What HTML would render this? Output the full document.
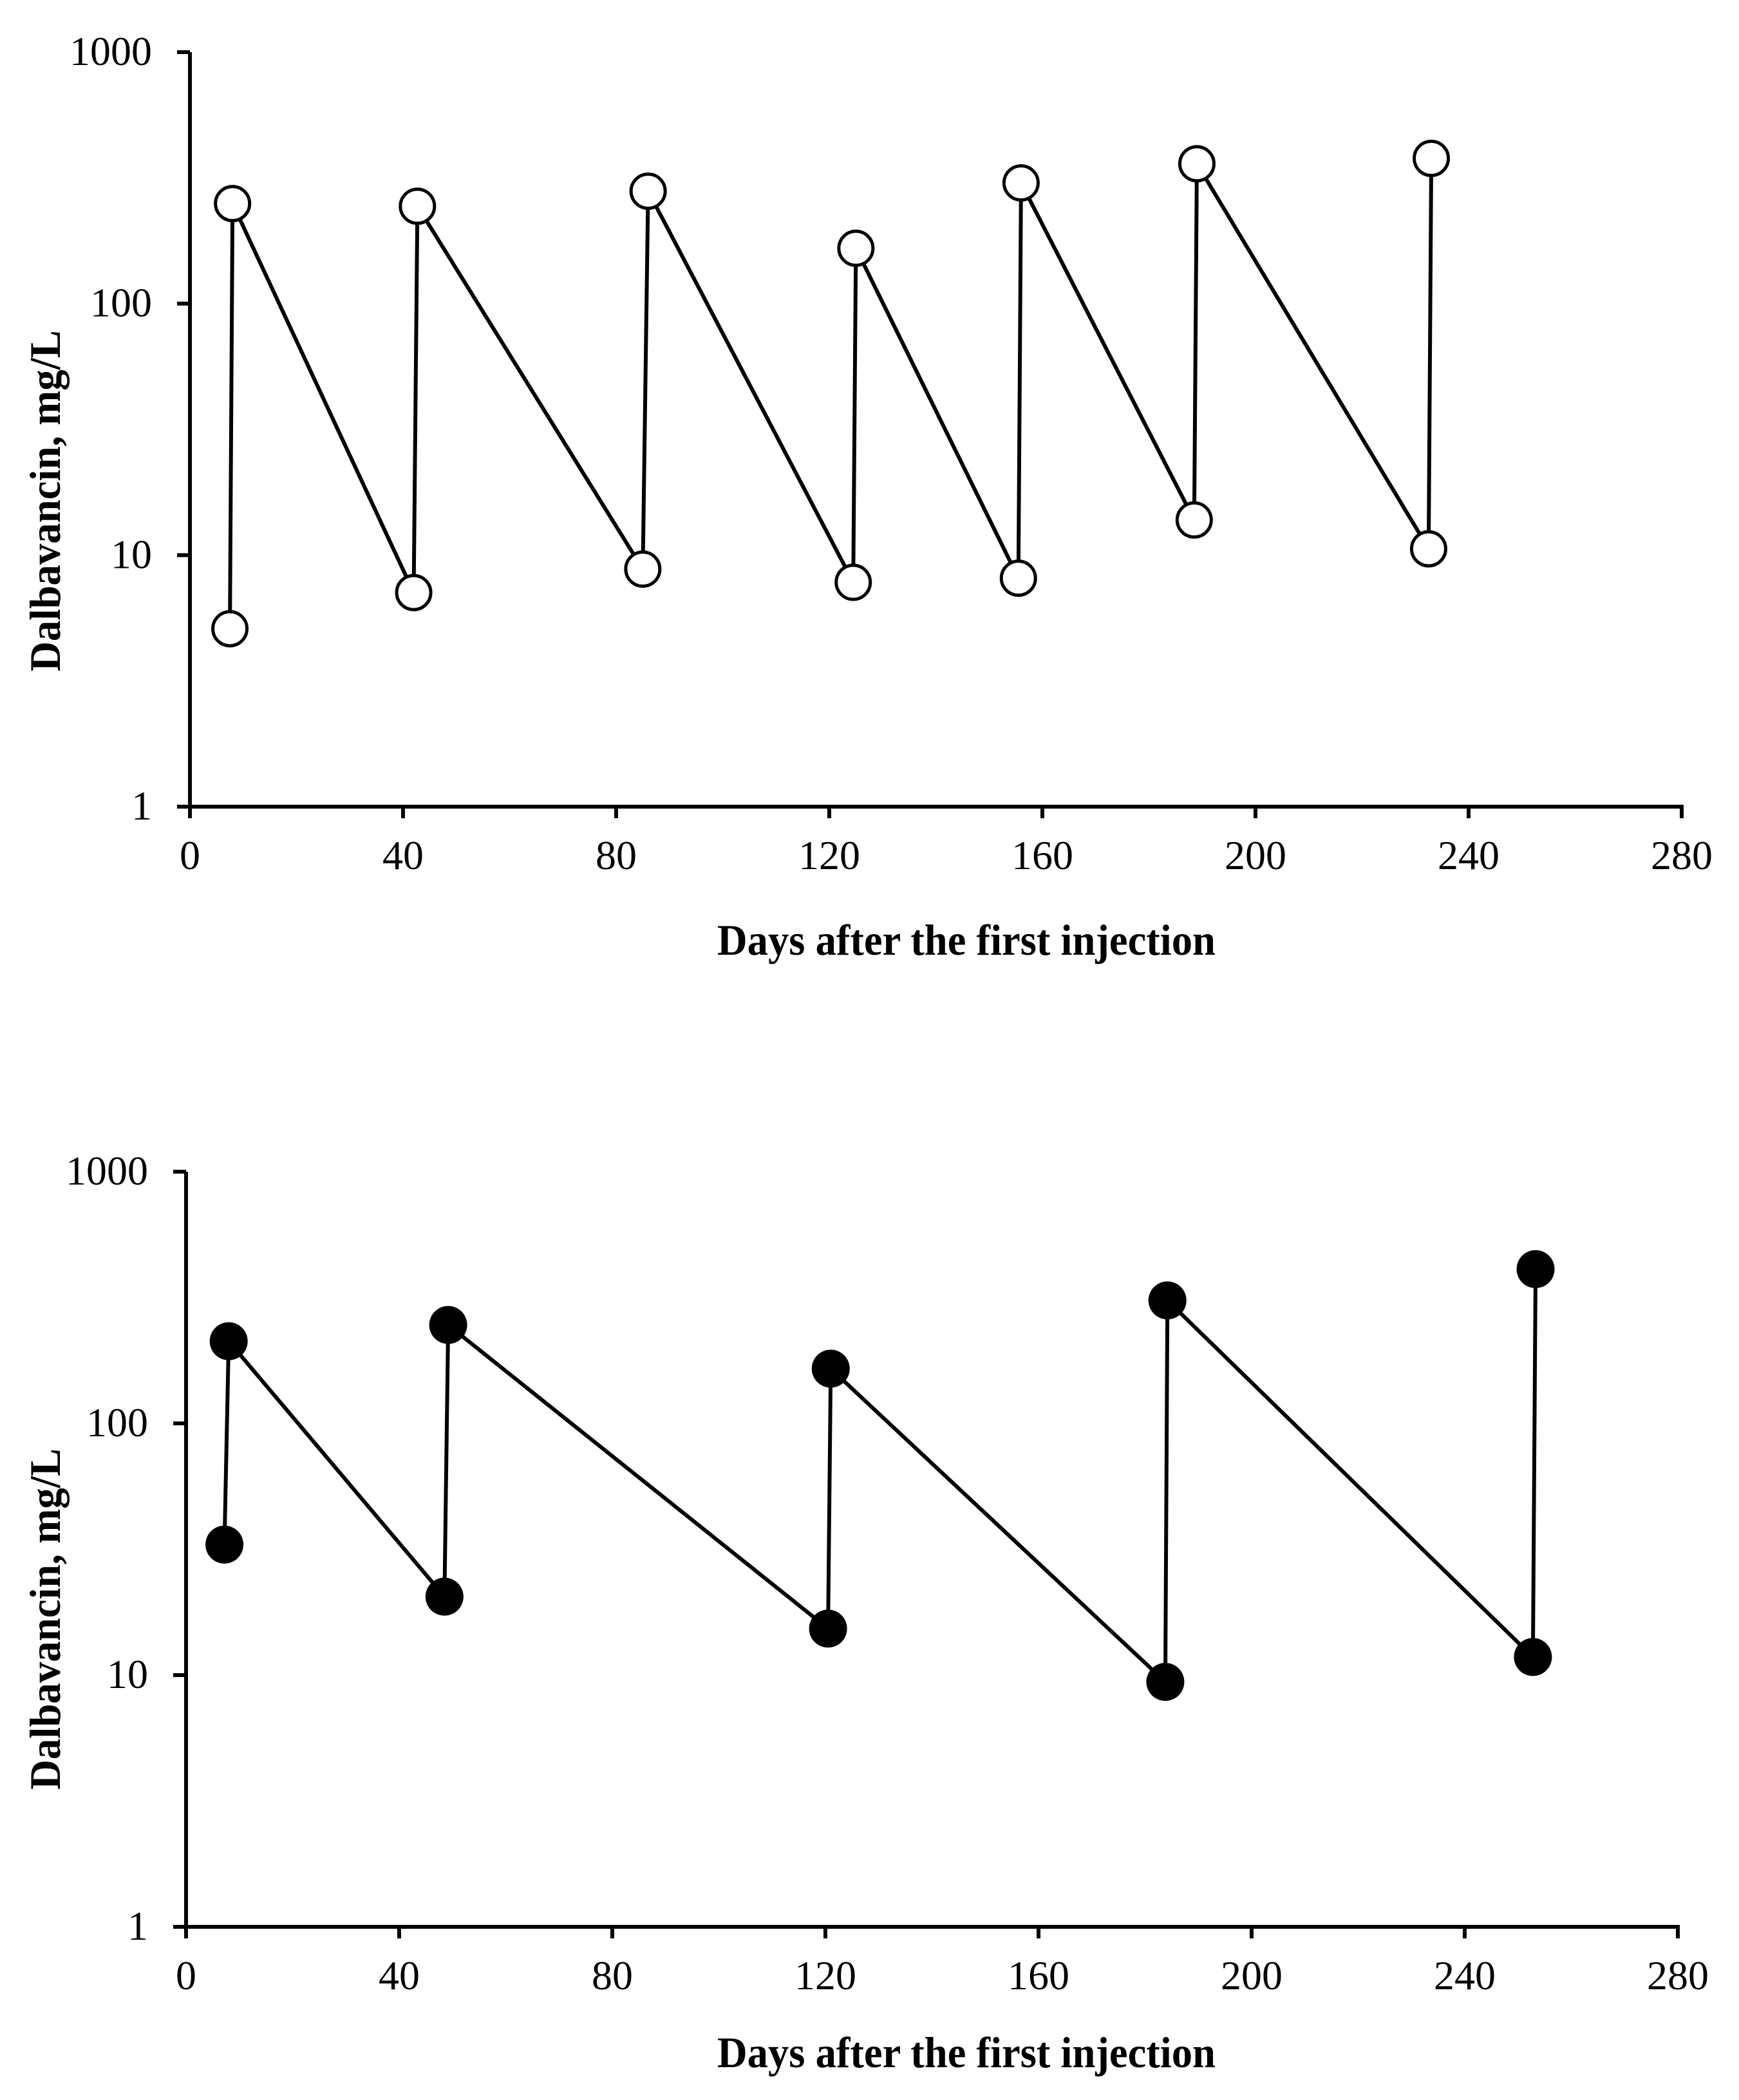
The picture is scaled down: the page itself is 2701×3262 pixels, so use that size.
<!DOCTYPE html>
<html><head><meta charset="utf-8"><style>
html,body{margin:0;padding:0;background:#fff}
svg{display:block}
text{font-family:"Liberation Serif","Times New Roman",serif;fill:#000}
</style></head><body>
<svg id="root" width="2701" height="3262" viewBox="0 0 2701 3262" xmlns="http://www.w3.org/2000/svg"></svg>
<script>
// Top panel (open circles)
const daysTop = [7.5, 8, 42, 42.7, 85, 86, 124.5, 125, 155.5, 156, 188.5, 189, 232.5, 233];
const concTop = [5.1, 250, 7.1, 244, 8.8, 280, 7.8, 166, 8.1, 302, 13.8, 360, 10.6, 378];
// Bottom panel (filled circles)
const daysBottom = [7.2, 8, 48.5, 49.2, 120.5, 121, 183.8, 184.2, 252.8, 253.3];
const concBottom = [33, 212, 20.5, 246, 15.3, 165, 9.4, 308, 11.8, 410];
const xTicks = [0, 40, 80, 120, 160, 200, 240, 280];
const xTickLabels = ["0", "40", "80", "120", "160", "200", "240", "280"];
const yTicks = [1, 10, 100, 1000];
const yTickLabels = ["1", "10", "100", "1000"];

const NS = "http://www.w3.org/2000/svg";
const root = document.getElementById("root");
function mk(tag, attrs, parent) {
  const e = document.createElementNS(NS, tag);
  for (const k in attrs) e.setAttribute(k, attrs[k]);
  (parent || root).appendChild(e);
  return e;
}

function panel(cfg) {
  const g = mk("g", {});
  
  
  const xs = d => cfg.x0 + (d / 280) * (cfg.x1 - cfg.x0);
  const ys = v => cfg.y1 + (Math.log10(v) / 3) * (cfg.y0 - cfg.y1);

  const yAxis = mk("line", {x1: cfg.x0, y1: cfg.y0, x2: cfg.x0, y2: cfg.y1 + 18, stroke: "#000", "stroke-width": 6}, g);
  
  
  const xAxis = mk("line", {x1: cfg.x0 - 20, y1: cfg.y1, x2: cfg.x1 + 3, y2: cfg.y1, stroke: "#000", "stroke-width": 6}, g);
  
  

  yTicks.forEach((t, i) => {
    const y = ys(t);
    const tk = mk("line", {x1: cfg.x0 - 20, y1: y, x2: cfg.x0, y2: y, stroke: "#000", "stroke-width": 6}, g);
    
    
    const lb = mk("text", {x: cfg.x0 - 59, y: y + 20, "font-size": 64, "text-anchor": "end"}, g);
    lb.textContent = yTickLabels[i];
    
    
  });
  xTicks.forEach((t, i) => {
    const x = xs(t);
    const tk = mk("line", {x1: x, y1: cfg.y1, x2: x, y2: cfg.y1 + 18, stroke: "#000", "stroke-width": 6}, g);
    
    
    const lb = mk("text", {x: x, y: cfg.y1 + 97, "font-size": 64, "text-anchor": "middle"}, g);
    lb.textContent = xTickLabels[i];
    
    
  });

  const xt = mk("text", {x: 1501, y: cfg.y1 + cfg.xtitleOff, "font-size": 68, "font-weight": "bold", "text-anchor": "middle", textLength: 774, lengthAdjust: "spacingAndGlyphs"}, g);
  xt.textContent = "Days after the first injection";
  
  
  const yt = mk("text", {x: 0, y: 0, "font-size": 68, "font-weight": "bold", "text-anchor": "middle", textLength: 530, lengthAdjust: "spacingAndGlyphs", transform: `translate(93,${cfg.ytitle}) rotate(-90)`}, g);
  yt.textContent = "Dalbavancin, mg/L";
  
  

  const pts = cfg.days.map((d, i) => [xs(d), ys(cfg.conc[i])]);
  const line = mk("polyline", {points: pts.map(p => p.join(",")).join(" "), fill: "none", stroke: "#000", "stroke-width": 6, "stroke-linejoin": "miter"}, g);
  
  
  pts.forEach(p => {
    const c = mk("circle", {cx: p[0], cy: p[1], r: cfg.filled ? 29.5 : 26.5, fill: cfg.filled ? "#000" : "#fff", stroke: "#000", "stroke-width": cfg.filled ? 0 : 5}, g);
    
    
  });
}

panel({name: "top-chart", x0: 295, x1: 2612, y0: 81, y1: 1253, ytitle: 778, xtitleOff: 230, days: daysTop, conc: concTop, filled: false});
panel({name: "bottom-chart", x0: 289, x1: 2606, y0: 1820, y1: 2993, ytitle: 2515, xtitleOff: 218, days: daysBottom, conc: concBottom, filled: true});
</script>
</body></html>
